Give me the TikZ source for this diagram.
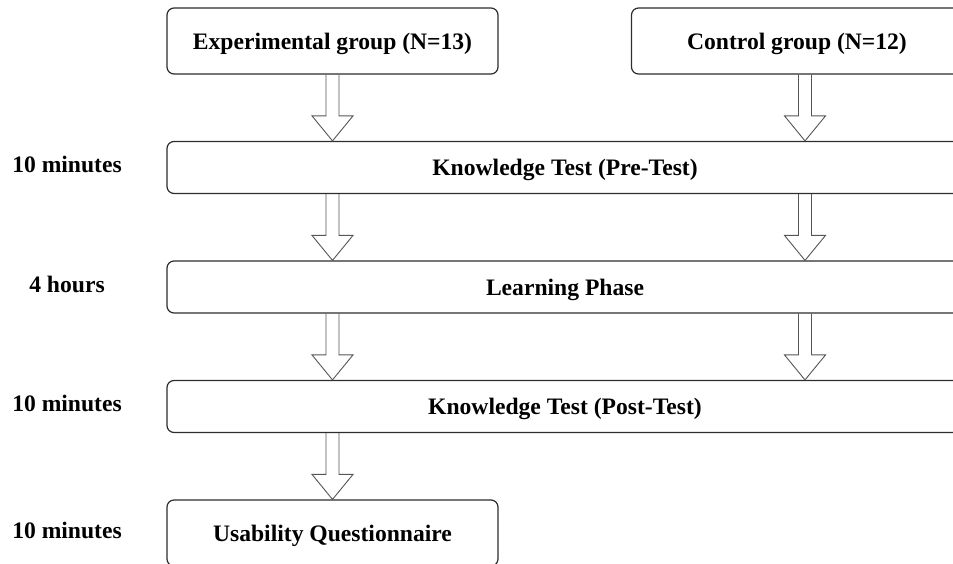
\documentclass[tikz,border=0pt]{standalone}
\usepackage{fontspec}
\setmainfont{Liberation Serif}
\usetikzlibrary{calc}
\definecolor{box_gray}{RGB}{45,45,45}
\definecolor{arrow_gray}{RGB}{85,85,85}

\newcommand{\blockarrow}[2]{%
  \draw[block_arrow] let \p1=(#1), \p2=(#2) in
    (\x1-6.5pt,\y1) -- (\x1-6.5pt,\y2+25pt) -- (\x1-20.5pt,\y2+25pt) -- (\x1,\y2)
    -- (\x1+20.5pt,\y2+25pt) -- (\x1+6.5pt,\y2+25pt) -- (\x1+6.5pt,\y1);}

\begin{document}
\begin{tikzpicture}[x=1pt,y=-1pt,font=\fontsize{23.6}{28}\selectfont\bfseries]
    \tikzstyle{stage}=[draw=box_gray, line width=1.2pt, rounded corners=7pt, inner sep=0pt, text=black, text height=16pt, text depth=0pt]
    \tikzstyle{group}=[stage, minimum width=331pt, minimum height=66pt]
    \tikzstyle{phase}=[stage, minimum width=796pt, minimum height=52pt]
    \tikzstyle{duration}=[text=black, inner sep=0pt, text height=10pt, text depth=0pt]
    \tikzstyle{block_arrow}=[draw=arrow_gray, line width=0.9pt, line join=miter]

    \useasboundingbox (0,0) rectangle (953,563);
    \clip (0,0) rectangle (953,563);

    \node[group] (exp)   at (332.5,41)  {Experimental group (N=13)};
    \node[group] (ctrl)  at (797,41)    {Control group (N=12)};
    \node[phase] (pre)   at (565,167.5) {Knowledge Test (Pre-Test)};
    \node[phase] (learn) at (565,287)   {Learning Phase};
    \node[phase] (post)  at (565,406.5) {Knowledge Test (Post-Test)};
    \node[group] (usab)  at (332.5,533) {Usability Questionnaire};

    \node[duration] (t_pre)   at (67,0 |- pre)   {10 minutes};
    \node[duration] (t_learn) at (67,0 |- learn) {4 hours};
    \node[duration] (t_post)  at (67,0 |- post)  {10 minutes};
    \node[duration] (t_usab)  at (67,0 |- usab)  {10 minutes};

    \coordinate (rcol) at (805,0);
    \blockarrow{exp.south}{pre.north -| exp}
    \blockarrow{ctrl.south -| rcol}{pre.north -| rcol}
    \blockarrow{pre.south -| exp}{learn.north -| exp}
    \blockarrow{pre.south -| rcol}{learn.north -| rcol}
    \blockarrow{learn.south -| exp}{post.north -| exp}
    \blockarrow{learn.south -| rcol}{post.north -| rcol}
    \blockarrow{post.south -| exp}{usab.north}
  \end{tikzpicture}
\end{document}
